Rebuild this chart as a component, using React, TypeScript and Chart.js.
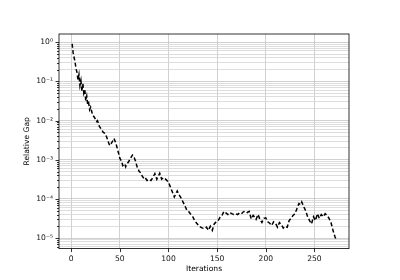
import React, { useEffect, useRef } from "react";
import { Chart, registerables } from "chart.js";

Chart.register(...registerables);

const iterations = [
  1, 2, 4, 5, 6, 7, 8, 9, 10, 11, 12, 13, 14, 15, 16, 17, 18, 19, 20, 22, 24, 26, 27, 29, 31, 33, 35, 37, 39, 40,
  42, 44, 46, 48, 50, 52, 53, 55, 56, 57, 59, 61, 63, 64, 66, 68, 70, 72, 73, 75, 76, 78, 80, 82, 84, 86, 88, 90,
  91, 93, 95, 97, 100, 102, 104, 106, 107, 109, 111, 113, 115, 117, 119, 121, 123, 125, 127, 129, 131, 133, 135,
  137, 139, 141, 143, 145, 147, 149, 151, 153, 155, 157, 159, 161, 163, 165, 167, 169, 171, 173, 175, 177, 179,
  181, 183, 185, 187, 189, 190, 192, 194, 196, 198, 200, 202, 204, 206, 208, 210, 212, 214, 216, 218, 220, 222,
  224, 226, 228, 230, 232, 234, 236, 237, 239, 241, 243, 245, 247, 249, 251, 253, 255, 257, 259, 261, 263, 265,
  267, 269, 271, 272,
];

const relativeGap = [
  0.91, 0.54, 0.31, 0.21, 0.17, 0.11, 0.15, 0.079, 0.105, 0.056, 0.089, 0.05, 0.06, 0.032, 0.042, 0.025, 0.028,
  0.019, 0.022, 0.014, 0.012, 0.0095, 0.01, 0.0071, 0.006, 0.005, 0.0047, 0.0035, 0.0025, 0.0023,
  0.0028, 0.0035, 0.0026, 0.0017, 0.0011, 8.9e-4, 7.1e-4, 7.9e-4, 6.6e-4, 7.6e-4, 8.9e-4, 1.1e-3, 1.32e-3, 1.26e-3,
  9.5e-4, 6.3e-4, 5.0e-4, 4.5e-4, 3.8e-4, 3.3e-4, 3.5e-4, 2.95e-4, 3.16e-4, 2.95e-4, 3.55e-4, 4.4e-4, 3.16e-4, 4.0e-4,
  4.5e-4, 3.2e-4, 3.5e-4, 3.2e-4, 2.7e-4, 2.0e-4, 1.5e-4, 1.12e-4, 1.26e-4, 1.6e-4, 1.26e-4, 1.05e-4, 8.3e-5,
  6.6e-5, 5.1e-5, 4.7e-5, 4.0e-5, 3.5e-5, 2.8e-5, 2.4e-5, 2.1e-5, 1.9e-5, 1.8e-5,
  1.74e-5, 1.9e-5, 1.58e-5, 2.0e-5, 1.58e-5, 2.3e-5, 2.6e-5, 2.8e-5, 3.4e-5, 3.8e-5, 4.8e-5, 4.4e-5, 4.0e-5, 4.5e-5,
  4.2e-5, 4.0e-5, 4.2e-5, 4.0e-5, 4.4e-5, 4.2e-5, 4.7e-5, 4.9e-5,
  4.5e-5, 4.8e-5, 3.1e-5, 3.8e-5, 3.3e-5, 3.0e-5, 4.0e-5, 3.0e-5, 2.5e-5, 3.2e-5, 3.3e-5, 2.6e-5, 2.4e-5, 2.1e-5,
  2.6e-5, 2.4e-5, 1.9e-5, 2.5e-5, 2.2e-5, 1.8e-5, 2.0e-5, 1.9e-5,
  2.8e-5, 3.2e-5, 3.8e-5, 4.2e-5, 5.6e-5, 7.6e-5, 7.1e-5, 8.3e-5, 6.3e-5, 5.0e-5, 3.5e-5, 2.8e-5, 2.3e-5, 3.5e-5,
  2.8e-5, 4.2e-5, 3.2e-5, 4.0e-5, 3.5e-5, 4.2e-5, 3.8e-5, 3.2e-5,
  2.5e-5, 1.6e-5, 1.1e-5, 9.5e-6,
];

const xTicks = [0, 50, 100, 150, 200, 250];
const yDecades = [-6, -5, -4, -3, -2, -1, 0];
const xTitle = "Iterations";
const yTitle = "Relative Gap";

const X_MIN = -12.5;
const X_MAX = 285.5;
const Y_MIN = 5.4e-6;
const Y_MAX = 1.62;

const supers: Record<string, string> = {
  "-": "⁻", "0": "⁰", "1": "¹", "2": "²", "3": "³", "4": "⁴", "5": "⁵", "6": "⁶", "7": "⁷", "8": "⁸", "9": "⁹",
};
const toSup = (s: string) => s.split("").map((c) => supers[c] || c).join("");

const isDecade = (v: number) => {
  const e = Math.log10(v);
  return Math.abs(e - Math.round(e)) < 1e-6;
};

const FONT = "'DejaVu Sans', sans-serif";

const framePlugin = {
  id: "frame",
  afterDraw(chart: any) {
    const { ctx, chartArea } = chart;
    const { left, right, top, bottom } = chartArea;
    const xs = chart.scales.x;
    const ys = chart.scales.y;
    ctx.save();
    ctx.strokeStyle = "#000";
    ctx.lineWidth = 0.8;
    // tick marks
    ctx.beginPath();
    for (const t of ys.ticks) {
      const y = Math.round(ys.getPixelForValue(t.value)) + 0.5;
      const len = isDecade(t.value) ? 3.5 : 2;
      ctx.moveTo(left - len, y);
      ctx.lineTo(left, y);
    }
    for (const t of xs.ticks) {
      const x = Math.round(xs.getPixelForValue(t.value)) + 0.5;
      ctx.moveTo(x, bottom);
      ctx.lineTo(x, bottom + 3.5);
    }
    ctx.stroke();
    ctx.strokeRect(left, top, right - left, bottom - top);
    // axis titles
    ctx.fillStyle = "#000";
    ctx.font = `7.6px ${FONT}`;
    ctx.textAlign = "center";
    ctx.textBaseline = "middle";
    ctx.fillText(xTitle, (left + right) / 2, 269.5);
    ctx.translate(27.5, (top + bottom) / 2);
    ctx.rotate(-Math.PI / 2);
    ctx.fillText(yTitle, 0, 0);
    ctx.restore();
  },
};

export default function App() {
  const ref = useRef<HTMLCanvasElement | null>(null);

  useEffect(() => {
    if (!ref.current) return;
    const points = iterations.map((x, i) => ({ x, y: relativeGap[i] }));
    const chart = new Chart(ref.current, {
      type: "line",
      data: {
        datasets: [
          {
            data: points,
            borderColor: "#000",
            borderWidth: 1.5,
            borderDash: [4, 2.4],
            pointRadius: 0,
            tension: 0,
            fill: false,
          },
        ],
      },
      options: {
        animation: false,
        responsive: false,
        devicePixelRatio: 1,
        layout: { padding: { top: 34, right: 51, left: 0, bottom: 0 } },
        plugins: { legend: { display: false }, tooltip: { enabled: false } },
        scales: {
          x: {
            type: "linear",
            min: X_MIN,
            max: X_MAX,
            afterBuildTicks: (scale: any) => {
              scale.ticks = xTicks.map((v) => ({ value: v }));
            },
            afterFit: (scale: any) => {
              scale.height = 31.4;
            },
            ticks: {
              autoSkip: false,
              maxRotation: 0,
              padding: 6,
              color: "#111",
              font: { family: FONT, size: 7.6 },
              callback: (v: any) => String(v),
            },
            grid: { color: "#c4c4c4", lineWidth: 0.8, drawTicks: false },
            border: { display: false },
          },
          y: {
            type: "logarithmic",
            min: Y_MIN,
            max: Y_MAX,
            afterBuildTicks: (scale: any) => {
              const ticks: { value: number; major?: boolean }[] = [];
              for (const e of yDecades) {
                for (let k = 1; k <= 9; k++) {
                  const v = k * Math.pow(10, e);
                  if (v >= Y_MIN && v <= Y_MAX) ticks.push({ value: v });
                }
              }
              scale.ticks = ticks;
            },
            afterFit: (scale: any) => {
              scale.width = 59;
            },
            ticks: {
              autoSkip: false,
              padding: 6,
              color: "#111",
              font: { family: FONT, size: 7.6 },
              callback: (v: any) => {
                const n = Number(v);
                if (!isDecade(n)) return "";
                return "10" + toSup(String(Math.round(Math.log10(n))));
              },
            },
            grid: {
              color: (c: any) => (c.tick && isDecade(c.tick.value) ? "#c4c4c4" : "#d4d4d4"),
              lineWidth: 0.8,
              drawTicks: false,
            },
            border: { display: false },
          },
        },
      },
      plugins: [framePlugin],
    } as any);
    return () => chart.destroy();
  }, []);

  return (
    <div style={{ position: "absolute", left: 0, top: 0, width: 400, height: 280, background: "#fff" }}>
      <canvas ref={ref} width={400} height={280} style={{ width: 400, height: 280, display: "block" }} />
    </div>
  );
}
